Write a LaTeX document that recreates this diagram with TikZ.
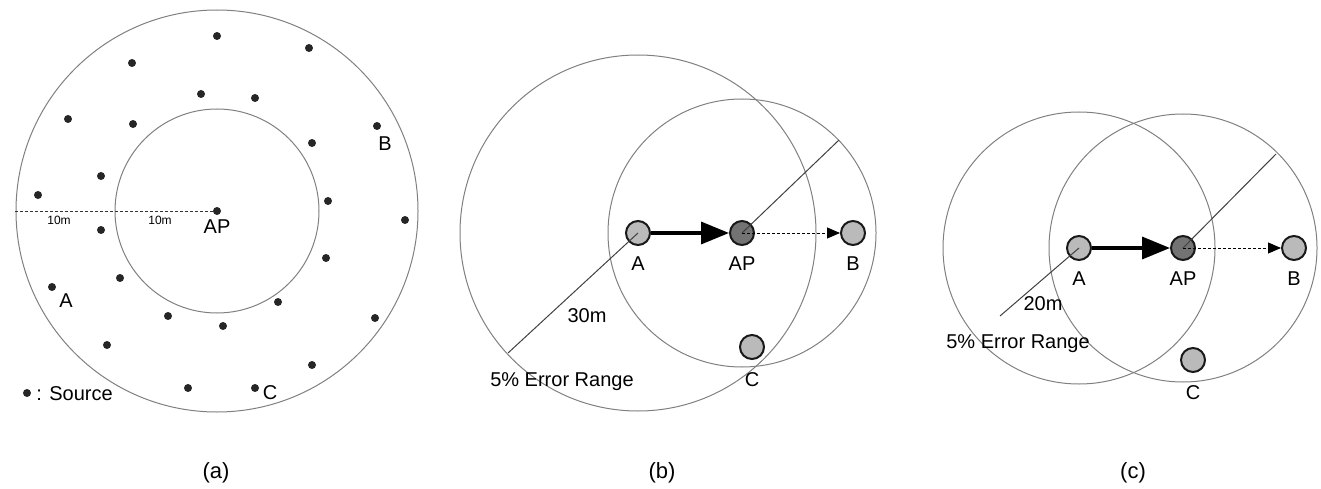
\documentclass[tikz,border=0pt]{standalone}
\usepackage{fontspec}
\setmainfont{Liberation Sans}
\usetikzlibrary{positioning,arrows.meta,calc}

\begin{document}
\begin{tikzpicture}[
  x=1pt, y=-1pt,
  tag/.style={font=\fontsize{20}{24}\selectfont, inner sep=0pt, text height=14pt, text depth=0pt},
  dist/.style={font=\fontsize{12}{14}\selectfont, inner sep=0pt, text height=8.6pt, text depth=0pt},
  caption/.style={font=\fontsize{22}{26}\selectfont, inner sep=0pt, text height=16pt, text depth=0pt},
  zone/.style={draw=black!50, line width=1pt},
  src/.style={circle, fill=black!85, minimum size=8pt, inner sep=0pt},
  station/.style={circle, draw=black!90, line width=2pt, fill=black!27, minimum size=24pt, inner sep=0pt},
  ap station/.style={station, fill=black!55},
  radius line/.style={draw=black!75, line width=1pt},
  move/.style={line width=3.5pt, -{Triangle[length=28pt,width=22pt]}},
  forward/.style={densely dashed, line width=1pt, -{Triangle[length=13pt,width=11pt]}},
  measure/.style={densely dashed, line width=0.9pt, black!80}
]
  \useasboundingbox (0,0) rectangle (1321,489);

  % (a) sources around the AP
  \coordinate (aCtr)  at (217,211);
  \coordinate (aEdge) at (15,211);
  \draw[zone] (aCtr) circle[radius=201pt];
  \draw[zone] (aCtr) circle[radius=102pt];

  \node[src] (aAP) at (aCtr) {};
  \node[src] (sa1)  at (217,36)  {};
  \node[src] (sa2)  at (309,48)  {};
  \node[src] (sa3)  at (132,63)  {};
  \node[src] (sa4)  at (201,94)  {};
  \node[src] (sa5)  at (255,98)  {};
  \node[src] (sa6)  at (68,119)  {};
  \node[src] (sa7)  at (133,124) {};
  \node[src] (saB)  at (377,126) {};
  \node[src] (sa9)  at (312,143) {};
  \node[src] (sa10) at (101,176) {};
  \node[src] (sa11) at (38,195)  {};
  \node[src] (sa12) at (328,201) {};
  \node[src] (sa13) at (405,220) {};
  \node[src] (sa14) at (101,230) {};
  \node[src] (sa15) at (326,258) {};
  \node[src] (sa16) at (120,278) {};
  \node[src] (saA)  at (52,287)  {};
  \node[src] (sa18) at (278,302) {};
  \node[src] (sa19) at (168,316) {};
  \node[src] (sa20) at (223,326) {};
  \node[src] (sa21) at (375,318) {};
  \node[src] (sa22) at (107,345) {};
  \node[src] (sa23) at (312,365) {};
  \node[src] (sa24) at (188,388) {};
  \node[src] (saC)  at (255,388) {};
  \node[src] (saKey) at (27,393) {};

  \draw[measure] (aEdge) -- (aAP);
  \node[dist] (aD1) at (59,220)  {10m};
  \node[dist] (aD2) at (160,220) {10m};
  \node[tag, below=4pt of aAP] (aAPl) {AP};
  \node[tag] (aBl) at (385,144) {B};
  \node[tag] (aAl) at (66,300)  {A};
  \node[tag] (aCl) at (270,392) {C};
  \node[tag, anchor=west, right=5pt of saKey] (aKeyl) {: Source};
  \node[caption] (capA) at (216,470) {(a)};

  % (b) 30m error range
  \coordinate (bApos)  at (638,233);
  \coordinate (bAPpos) at (742,233);
  \coordinate (bAend)  at (508,353);
  \coordinate (bPend)  at (839,140);
  \draw[zone] (bApos)  circle[radius=178pt];
  \draw[zone] (bAPpos) circle[radius=134pt];

  \node[station]    (bA)  at (bApos)   {};
  \node[ap station] (bAP) at (bAPpos)  {};
  \node[station]    (bB)  at (853,233) {};
  \node[station]    (bC)  at (752,347) {};

  \draw[radius line] (bA.center) -- (bAend);
  \draw[radius line] (bAP.center) -- (bPend);
  \draw[move] (bA) -- (bAP);
  \draw[forward] (bAP.center) -- (bB);

  \node[tag, below=10pt of bA]  (bAl)  {A};
  \node[tag, below=10pt of bAP] (bAPl) {AP};
  \node[tag, below=10pt of bB]  (bBl)  {B};
  \node[tag, below=12pt of bC]  (bCl)  {C};
  \node[tag] (bDist)  at (587,315) {30m};
  \node[tag] (bRange) at (562,379) {5\% Error Range};
  \node[caption] (capB) at (662,470) {(b)};

  % (c) 20m error range
  \coordinate (cApos)  at (1079,248);
  \coordinate (cAPpos) at (1183,248);
  \coordinate (cAend)  at (1000,316);
  \coordinate (cPend)  at (1276,154);
  \draw[zone] (cApos)  circle[radius=136pt];
  \draw[zone] (cAPpos) circle[radius=134pt];

  \node[station]    (cA)  at (cApos)    {};
  \node[ap station] (cAP) at (cAPpos)   {};
  \node[station]    (cB)  at (1294,248) {};
  \node[station]    (cC)  at (1193,360) {};

  \draw[radius line] (cA.center) -- (cAend);
  \draw[radius line] (cAP.center) -- (cPend);
  \draw[move] (cA) -- (cAP);
  \draw[forward] (cAP.center) -- (cB);

  \node[tag, below=10pt of cA]  (cAl)  {A};
  \node[tag, below=10pt of cAP] (cAPl) {AP};
  \node[tag, below=10pt of cB]  (cBl)  {B};
  \node[tag, below=12pt of cC]  (cCl)  {C};
  \node[tag] (cDist)  at (1043,303) {20m};
  \node[tag] (cRange) at (1018,341) {5\% Error Range};
  \node[caption] (capC) at (1133,470) {(c)};
\end{tikzpicture}
\end{document}
